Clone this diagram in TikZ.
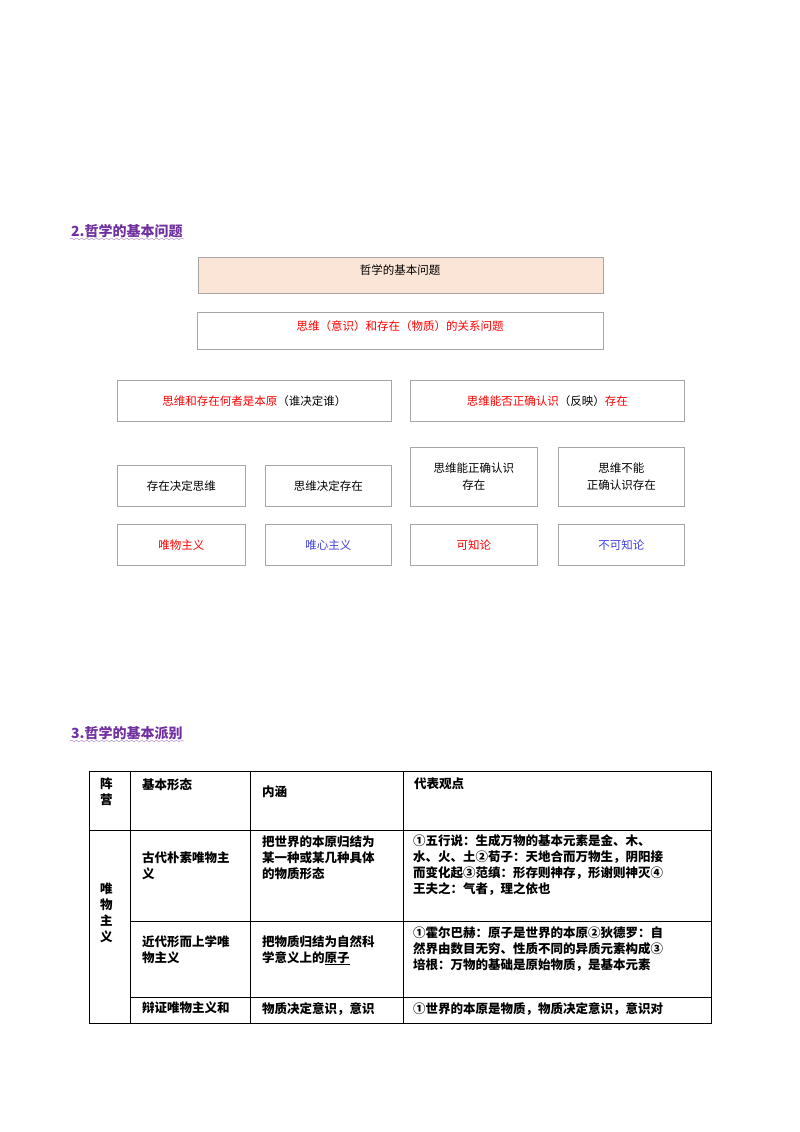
\documentclass[tikz,border=0pt]{standalone}
\usepackage{fontspec}
\setmainfont{Noto Sans CJK SC}
\usetikzlibrary{positioning, decorations.pathmorphing}
\definecolor{BoxPeach}{HTML}{FBE5D6}
\definecolor{BoxLine}{HTML}{A6A6A6}
\definecolor{HeadPurple}{HTML}{7030A0}
\definecolor{IdeaBlue}{HTML}{4040E0}

\begin{document}
\begin{tikzpicture}[
  x=1pt, y=-1pt,
  box/.style={rectangle, draw=BoxLine, thick, fill=white, anchor=north west, align=center, font=\fontsize{11.5}{17}\selectfont, inner sep=0pt},
  head/.style={anchor=west, text=HeadPurple, font=\fontsize{14}{16}\selectfont\bfseries, inner sep=1pt},
  wave/.style={HeadPurple!60, decorate, decoration={snake, amplitude=0.8pt, segment length=5pt}},
  cell/.style={anchor=north west, align=left, font=\fontsize{12.5}{16}\selectfont\bfseries, inner sep=0pt},
  rule/.style={line width=1pt}
]
\useasboundingbox (0,0) rectangle (800,1132);

% section 2
\node[head] (h2) at (70,231) {2.哲学的基本问题};
\draw[wave] (h2.south west) -- (h2.south east);

\node[box, fill=BoxPeach, minimum width=405, minimum height=36] (root) at (198,257) {};
\node at (400,270) [font=\fontsize{11.5}{14}\selectfont] {哲学的基本问题};
\node[box, minimum width=406, minimum height=37] (rel) at (197,312) {};
\node[red, font=\fontsize{11.5}{14}\selectfont] at (400,326) {思维（意识）和存在（物质）的关系问题};

\node[box, minimum width=274, minimum height=41] (first) at (117,380)
  {\textcolor{red}{思维和存在何者是本原}（谁决定谁）};
\node[box, minimum width=274, minimum height=41] (second) at (410,380)
  {\textcolor{red}{思维能否正确认识}（反映）\textcolor{red}{存在}};

\node[box, minimum width=128, minimum height=41] (b1) at (117,465) {存在决定思维};
\node[box, minimum width=126, minimum height=41] (b2) at (265,465) {思维决定存在};
\node[box, minimum width=127, minimum height=59] (b3) at (410,447) {思维能正确认识\\存在};
\node[box, minimum width=126, minimum height=59] (b4) at (558,447) {思维不能\\正确认识存在};

\node[box, minimum width=128, minimum height=41, text=red] (c1) at (117,524) {唯物主义};
\node[box, minimum width=126, minimum height=41, text=IdeaBlue] (c2) at (265,524) {唯心主义};
\node[box, minimum width=127, minimum height=41, text=red] (c3) at (410,524) {可知论};
\node[box, minimum width=126, minimum height=41, text=IdeaBlue] (c4) at (558,524) {不可知论};

% section 3
\node[head] (h3) at (70,733) {3.哲学的基本派别};
\draw[wave] (h3.south west) -- (h3.south east);

\draw[rule] (89,771) rectangle (711,1023);
\foreach \y in {830,921,997} \draw[rule] (130,\y) -- (711,\y);
\draw[rule] (89,830) -- (130,830);
\foreach \x in {130,250,403} \draw[rule] (\x,771) -- (\x,1023);

\node[cell] (camp) at (100,778) {阵\\营};
\node[cell] (form) at (142,778) {基本形态};
\node[cell] (mean) at (262,786) {内涵};
\node[cell] (view) at (414,778) {代表观点};
\node[cell] (mat) at (100,883) {唯\\物\\主\\义};

\node[cell] (f1) at (142,852) {古代朴素唯物主\\义};
\node[cell] (m1) at (262,836) {把世界的本原归结为\\某一种或某几种具体\\的物质形态};
\node[cell] (v1) at (413,834) {①五行说：生成万物的基本元素是金、木、\\水、火、土②荀子：天地合而万物生，阴阳接\\而变化起③范缜：形存则神存，形谢则神灭④\\王夫之：气者，理之依也};

\node[cell] (f2) at (142,935) {近代形而上学唯\\物主义};
\node[cell] (m2) at (262,935) {把物质归结为自然科\\学意义上的\underline{原子}};
\node[cell] (v2) at (413,927) {①霍尔巴赫：原子是世界的本原②狄德罗：自\\然界由数目无穷、性质不同的异质元素构成③\\培根：万物的基础是原始物质，是基本元素};

\node[cell] (f3) at (142,1002) {辩证唯物主义和};
\node[cell] (m3) at (262,1002) {物质决定意识，意识};
\node[cell] (v3) at (413,1002) {①世界的本原是物质，物质决定意识，意识对};
\end{tikzpicture}
\end{document}
